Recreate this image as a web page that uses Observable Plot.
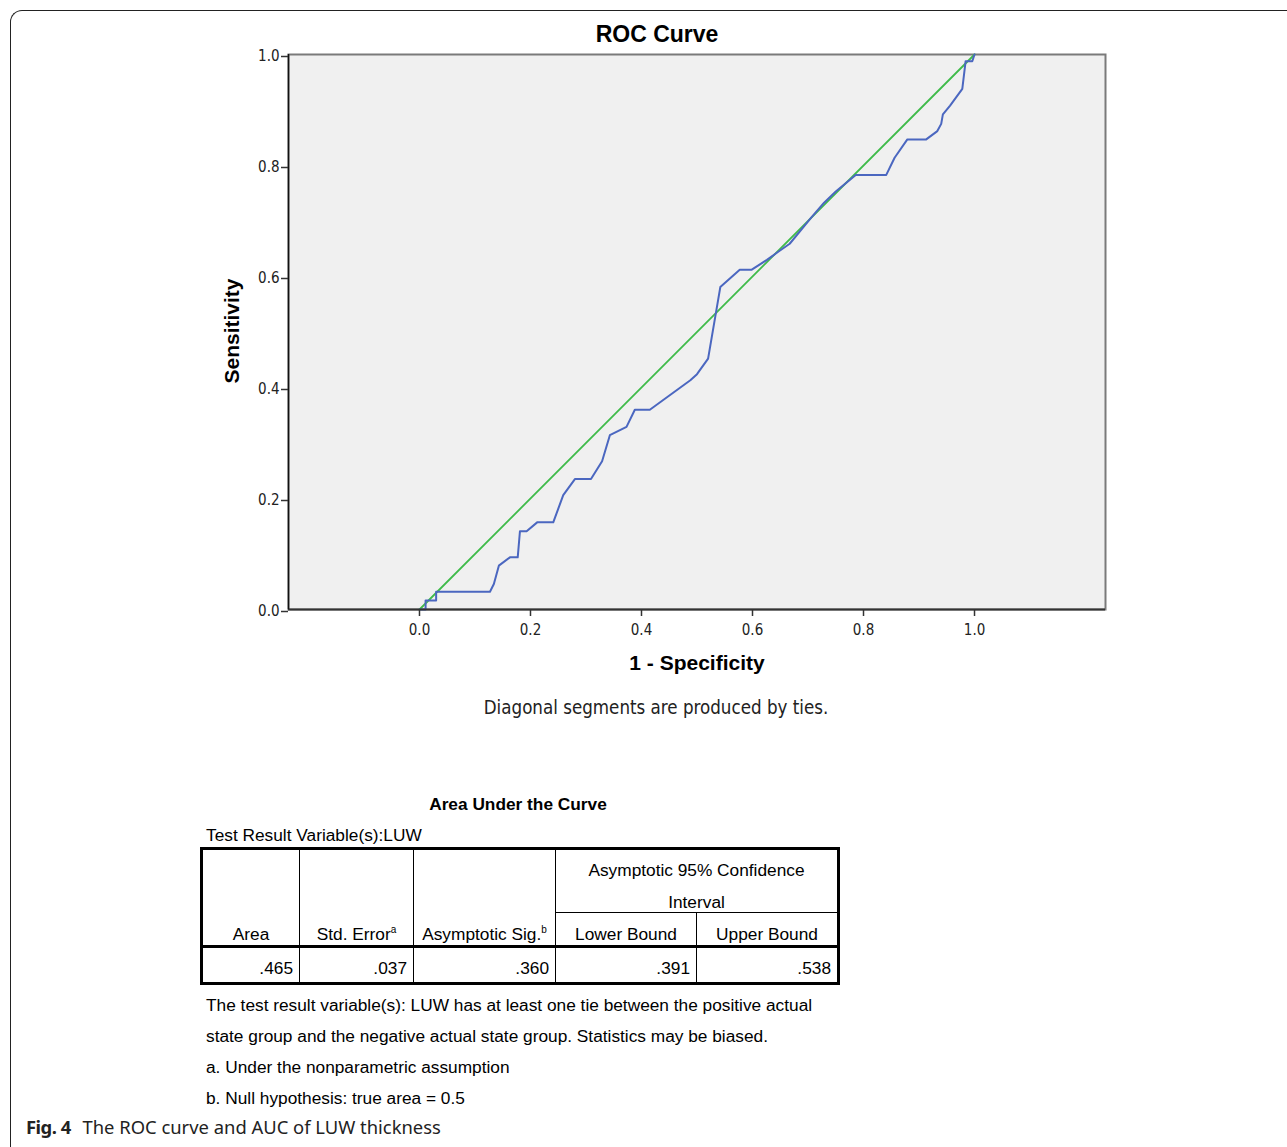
<!DOCTYPE html>
<html>
<head>
<meta charset="utf-8">
<script src="https://cdn.jsdelivr.net/npm/d3@7"></script>
<script src="https://cdn.jsdelivr.net/npm/@observablehq/plot@0.6"></script>
<style>
  html, body { margin: 0; padding: 0; background: #fff; }
  #page { position: relative; width: 1287px; height: 1147px; overflow: hidden; font-family: "Liberation Sans", Arial, sans-serif; color: #000; }
  #box { position: absolute; left: 10px; top: 10px; width: 1320px; height: 1200px; border-left: 1.5px solid #222; border-top: 1.5px solid #222; border-top-left-radius: 12px; }
  #chart { position: absolute; left: 0; top: 0; }
  .abs { position: absolute; white-space: nowrap; }
  #title { left: 557px; width: 200px; text-align: center; top: 21px; font-size: 23px; font-weight: bold; }
  #ylab { left: 232px; top: 331px; font-size: 21px; font-weight: bold; transform: translate(-50%, -50%) rotate(-90deg); }
  #xlab { left: 597px; width: 200px; text-align: center; top: 651px; font-size: 21px; font-weight: bold; }
  #note { left: 456px; width: 400px; text-align: center; top: 697px; font-size: 18.6px; font-family: "Liberation Sans Narrow", "DejaVu Sans Condensed", sans-serif; color: #222; }
  #auc { left: 318px; width: 400px; text-align: center; top: 794px; font-size: 17.3px; font-weight: bold; }
  #trv { left: 206px; top: 825px; font-size: 17.3px; }
  table { position: absolute; left: 200px; top: 847px; border-collapse: collapse; table-layout: fixed; font-size: 17.3px; border: 3px solid #000; }
  td { padding: 0; text-align: center; vertical-align: bottom; border-left: 1.5px solid #000; border-right: 1.5px solid #000; }
  .h1 td { height: 57px; }
  .h1 td.ci { vertical-align: top; padding-top: 5px; border-bottom: 1px solid #000; }
  .ci .l1 { line-height: 31px; height: 31px; }
  .ci .l2 { line-height: 20px; height: 20px; margin-top: 6px; }
  .h2 td { height: 32px; padding-bottom: 0px; }
  .hb td { border-bottom: 3px solid #000; }
  .d td { height: 27px; text-align: right; padding-right: 6px; vertical-align: middle; padding-top: 7px; }
  sup { font-size: 10px; vertical-align: 7px; line-height: 0; }
  .fn { left: 206px; font-size: 17.3px; }
  #cap { left: 26px; top: 1114px; font-family: "Noto Sans", sans-serif; font-size: 18.4px; color: #222; }
  #cap b { font-weight: bold; letter-spacing: -0.5px; margin-right: 7px; }
</style>
</head>
<body>
<div id="page">
  <div id="box"></div>
  <div id="chart"></div>
  <div class="abs" id="title">ROC Curve</div>
  <div class="abs" id="ylab">Sensitivity</div>
  <div class="abs" id="xlab">1 - Specificity</div>
  <div class="abs" id="note">Diagonal segments are produced by ties.</div>
  <div class="abs" id="auc">Area Under the Curve</div>
  <div class="abs" id="trv">Test Result Variable(s):LUW</div>
  <div id="tablewrap"></div>
  <div class="abs fn" style="top:995px">The test result variable(s): LUW has at least one tie between the positive actual</div>
  <div class="abs fn" style="top:1026px">state group and the negative actual state group. Statistics may be biased.</div>
  <div class="abs fn" style="top:1057px">a. Under the nonparametric assumption</div>
  <div class="abs fn" style="top:1088px">b. Null hypothesis: true area = 0.5</div>
  <div class="abs" id="cap"><b>Fig. 4</b>&nbsp;The ROC curve and AUC of LUW thickness</div>
</div>
<script>
// ROC curve (1 - specificity, sensitivity)
const fpr = [0, 0.011, 0.011, 0.030, 0.030, 0.127, 0.134, 0.143, 0.163, 0.177, 0.181, 0.193, 0.212, 0.241, 0.259, 0.280, 0.309, 0.329, 0.343, 0.373, 0.388, 0.415, 0.488, 0.500, 0.520, 0.542, 0.577, 0.598, 0.626, 0.647, 0.667, 0.705, 0.729, 0.750, 0.786, 0.841, 0.856, 0.879, 0.913, 0.933, 0.940, 0.943, 0.956, 0.978, 0.984, 0.996, 1.0];
const tpr = [0, 0, 0.016, 0.016, 0.032, 0.032, 0.046, 0.079, 0.094, 0.094, 0.141, 0.141, 0.157, 0.157, 0.206, 0.235, 0.235, 0.267, 0.314, 0.329, 0.360, 0.360, 0.413, 0.424, 0.452, 0.581, 0.612, 0.612, 0.630, 0.645, 0.659, 0.705, 0.733, 0.753, 0.783, 0.783, 0.814, 0.847, 0.847, 0.862, 0.875, 0.892, 0.908, 0.938, 0.988, 0.988, 1.0];
// reference line
const diagX = [0, 1];
const diagY = [0, 1];
// ticks
const xTicks = [0, 0.2, 0.4, 0.6, 0.8, 1.0];
const yTicks = [0, 0.2, 0.4, 0.6, 0.8, 1.0];
const xDomain = [-0.236, 1.236];
const yDomain = [0, 1];

// AUC table
const aucHeaders = ["Area", "Std. Error", "Asymptotic Sig.", "Lower Bound", "Upper Bound"];
const aucValues = [".465", ".037", ".360", ".391", ".538"];

const roc = fpr.map((x, i) => ({x, y: tpr[i]}));
const diag = diagX.map((x, i) => ({x, y: diagY[i]}));

const plot = Plot.plot({
  width: 1287,
  height: 640,
  marginLeft: 288,
  marginRight: 182,
  marginTop: 54,
  marginBottom: 31,
  style: {fontFamily: '"Liberation Sans Narrow", "DejaVu Sans Condensed", sans-serif', fontSize: "15px", color: "#222", background: "transparent"},
  x: {domain: xDomain, ticks: xTicks, tickFormat: d3.format(".1f"), label: null},
  y: {domain: yDomain, ticks: yTicks, tickFormat: d3.format(".1f"), label: null},
  marks: [
    Plot.frame({fill: "#f0f0f0", stroke: "#7a7a7a", strokeWidth: 2}),
    Plot.line(diag, {x: "x", y: "y", stroke: "#3fbb4a", strokeWidth: 1.8}),
    Plot.line(roc, {x: "x", y: "y", stroke: "#4b67c0", strokeWidth: 2}),
    Plot.ruleY([0], {stroke: "#333", strokeWidth: 2.2}),
    Plot.ruleX([xDomain[0]], {stroke: "#111", strokeWidth: 1.5}),
    Plot.axisX({ticks: xTicks, tickFormat: d3.format(".1f"), tickSize: 7, tickPadding: 8, stroke: "#333", strokeWidth: 1.5}),
    Plot.axisY({ticks: yTicks, tickFormat: d3.format(".1f"), tickSize: 7, tickPadding: 2, dy: 2, stroke: "#333", strokeWidth: 1.5})
  ]
});
document.getElementById("chart").appendChild(plot);

// table
const t = document.createElement("table");
const widths = [98, 114, 142, 141, 142];
const cg = document.createElement("colgroup");
widths.forEach(w => { const c = document.createElement("col"); c.style.width = w + "px"; cg.appendChild(c); });
t.appendChild(cg);
t.insertAdjacentHTML("beforeend", `
<tr class="h1">
  <td rowspan="2" class="hbc">${aucHeaders[0]}</td>
  <td rowspan="2" class="hbc">${aucHeaders[1]}<sup>a</sup></td>
  <td rowspan="2" class="hbc">${aucHeaders[2]}<sup>b</sup></td>
  <td colspan="2" class="ci"><div class="l1">Asymptotic 95% Confidence</div><div class="l2">Interval</div></td>
</tr>
<tr class="h2 hb"><td>${aucHeaders[3]}</td><td>${aucHeaders[4]}</td></tr>
<tr class="d">${aucValues.map(v => `<td>${v}</td>`).join("")}</tr>`);
t.querySelectorAll("td.hbc").forEach(td => { td.style.borderBottom = "3px solid #000"; td.style.paddingBottom = "0px"; });
document.getElementById("tablewrap").appendChild(t);
</script>
</body>
</html>
